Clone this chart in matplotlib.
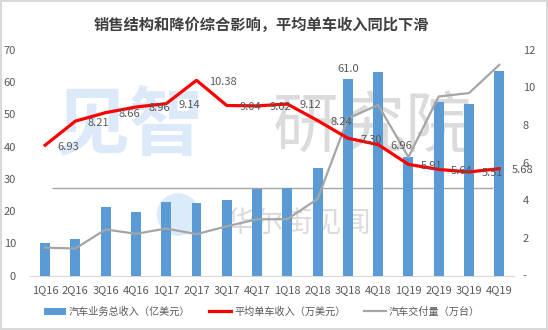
import matplotlib
matplotlib.use('Agg')
import matplotlib.pyplot as plt
from matplotlib.patches import Ellipse
import numpy as np

plt.rcParams['font.family'] = ['Noto Sans CJK SC', 'DejaVu Sans']

quarters = ['1Q16', '2Q16', '3Q16', '4Q16', '1Q17', '2Q17', '3Q17', '4Q17',
            '1Q18', '2Q18', '3Q18', '4Q18', '1Q19', '2Q19', '3Q19', '4Q19']
# 汽车业务总收入（亿美元）
auto_revenue = [10.0, 11.4, 21.2, 19.7, 22.7, 22.6, 23.4, 26.9,
                27.2, 33.5, 61.0, 63.2, 36.9, 53.7, 53.3, 63.5]
# 平均单车收入（万美元）
avg_price = [6.93, 8.21, 8.66, 8.96, 9.14, 10.38, 9.04, 9.02,
             9.12, 8.24, 7.30, 6.96, 5.91, 5.64, 5.51, 5.68]
# 汽车交付量（万台）
deliveries = [1.48, 1.44, 2.45, 2.22, 2.50, 2.20, 2.62, 2.99,
              3.00, 4.07, 8.35, 9.07, 6.30, 9.52, 9.70, 11.20]

title = '销售结构和降价综合影响，平均单车收入同比下滑'
labels = ['汽车业务总收入（亿美元）', '平均单车收入（万美元）', '汽车交付量（万台）']

blue = '#5B9BD5'
red = '#FF0000'
gray = '#A5A5A5'
txt = '#595959'

fig = plt.figure(figsize=(5.48, 3.3), dpi=100)
fig.patch.set_edgecolor('#D9D9D9')
fig.patch.set_linewidth(1.5)

ax = fig.add_axes([0.0547, 0.165, 0.884, 0.684])
ax2 = ax.twinx()

x = np.arange(len(quarters))

# 水印
fig.text(0.237, 0.615, '见智', fontsize=54, fontweight='bold', color='#DCE9F8',
         ha='center', va='center', zorder=0)
fig.text(0.68, 0.61, '研究院', fontsize=48, color='#D3D3D3', alpha=0.8,
         ha='center', va='center', zorder=0)
fig.text(0.545, 0.32, '华尔街见闻', fontsize=21, color='#D3D3D3', alpha=0.8,
         ha='center', va='center', zorder=0)
fig.patches.append(Ellipse((0.325, 0.35), 0.075, 0.125, transform=fig.transFigure,
                           color='#DCEBF9', zorder=0))

bars = ax.bar(x, auto_revenue, width=0.33, color=blue, zorder=3, label=labels[0])
ax.text(x[10], auto_revenue[10] + 1.5, f'{auto_revenue[10]:.1f}', ha='center',
        va='bottom', fontsize=8, color=txt)
# 图中的水平参考线
ax.hlines(27.1, 0.23, 14.8, color='#A6A6A6', lw=1, zorder=2)

l1, = ax2.plot(x, avg_price, color=red, lw=2.3, zorder=4, label=labels[1])
l2, = ax2.plot(x, deliveries, color=gray, lw=1.6, zorder=3, label=labels[2])
for xi, v in zip(x, avg_price):
    ax2.annotate(f'{v:.2f}', (xi, v), xytext=(9, -1), textcoords='offset points',
                 ha='left', va='center', fontsize=8, color=txt, zorder=5)

ax.set_zorder(1)
ax2.set_zorder(2)
ax.patch.set_visible(False)
ax2.patch.set_visible(False)

ax.set_xlim(-0.5, len(quarters) - 0.5)
ax.set_ylim(0, 70)
ax.set_yticks(range(0, 71, 10))
ax2.set_ylim(0, 12)
ax2.set_yticks(range(0, 13, 2))
ax2.set_yticklabels(['-'] + [str(v) for v in range(2, 13, 2)])
ax.set_xticks(x)
ax.set_xticklabels(quarters)

for a in (ax, ax2):
    for s in a.spines.values():
        s.set_visible(False)
    a.tick_params(length=0, labelsize=8, colors=txt)
ax.spines['bottom'].set_visible(True)
ax.spines['bottom'].set_color('#D9D9D9')
ax.tick_params(axis='y', pad=10)
ax.tick_params(axis='x', pad=7)
ax2.tick_params(axis='y', pad=6)

fig.text(0.477, 0.923, title, ha='center', va='center', fontsize=11,
         fontweight='bold', color='#404040')

fig.legend(handles=[bars, l1, l2], loc='center', bbox_to_anchor=(0.478, 0.055),
           ncol=3, frameon=False, fontsize=7.3, labelcolor=txt,
           handlelength=2.2, columnspacing=1.8, handletextpad=0.3)

fig.savefig('out.png', dpi=100)
